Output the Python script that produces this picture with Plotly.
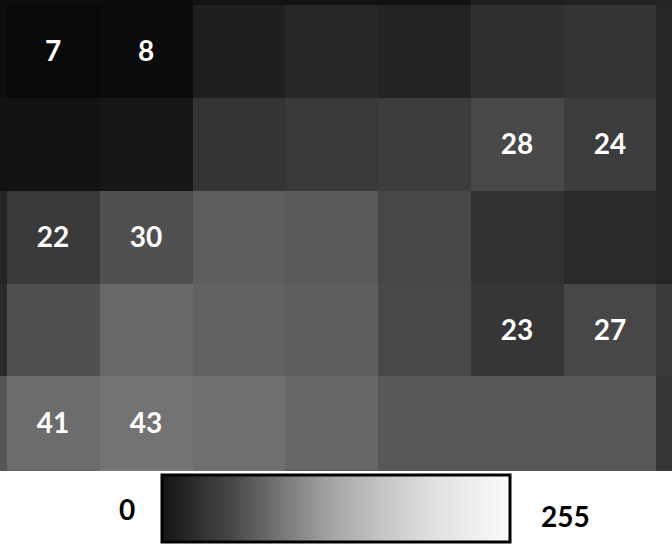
import plotly.graph_objects as go

# Gray level (0-255) of every pixel cell, top row to bottom row, left column to right column.
# Outer rows/columns are the partially visible cells at the image edges.
row_0 = [12, 12, 12, 19, 19, 18, 31, 34, 37]
row_1 = [14, 9, 11, 31, 39, 35, 48, 52, 38]
row_2 = [18, 18, 22, 52, 57, 61, 72, 60, 38]
row_3 = [37, 58, 80, 94, 90, 71, 49, 42, 38]
row_4 = [42, 80, 104, 98, 95, 72, 54, 71, 58]
row_5 = [85, 108, 115, 111, 103, 87, 87, 87, 54]
row_6 = [85, 106, 120, 112, 96, 85, 85, 85, 58]
gray_levels = [row_0, row_1, row_2, row_3, row_4, row_5, row_6]

# Numbers printed on cells ("" = no label)
label_0 = ["", "", "", "", "", "", "", "", ""]
label_1 = ["", "7", "8", "", "", "", "", "", ""]
label_2 = ["", "", "", "", "", "", "28", "24", ""]
label_3 = ["", "22", "30", "", "", "", "", "", ""]
label_4 = ["", "", "", "", "", "", "23", "27", ""]
label_5 = ["", "41", "43", "", "", "", "", "", ""]
label_6 = ["", "", "", "", "", "", "", "", ""]
cell_labels = [label_0, label_1, label_2, label_3, label_4, label_5, label_6]

scale_min_label = "0"
scale_max_label = "255"
scale_min, scale_max = 0, 255

W, H = 672, 554
cell_px = 92.8
plot_h = 471

gray_scale = [[0, "rgb(0,0,0)"], [1, "rgb(255,255,255)"]]
bar_scale = [
    [0.00, "#141414"], [0.10, "#2e2e2e"], [0.20, "#474747"], [0.30, "#686868"],
    [0.40, "#8a8a8a"], [0.50, "#a8a8a8"], [0.60, "#bebebe"], [0.70, "#d2d2d2"],
    [0.80, "#e3e3e3"], [0.90, "#efefef"], [1.00, "#fafafa"],
]

fig = go.Figure()
fig.add_trace(go.Heatmap(
    z=gray_levels,
    text=cell_labels,
    texttemplate="%{text}",
    textfont=dict(family="Lato", size=28, color="white", weight="bold"),
    colorscale=gray_scale,
    zmin=scale_min, zmax=scale_max,
    showscale=False,
    hoverinfo="skip",
))

# colour bar
fig.add_trace(go.Scatter(
    x=[None], y=[None], mode="markers",
    marker=dict(
        color=[scale_min], colorscale=bar_scale, cmin=scale_min, cmax=scale_max,
        showscale=True,
        colorbar=dict(
            orientation="h",
            thickness=67, len=348, lenmode="pixels",
            x=0.5, xanchor="center",
            y=1 - 510 / H, yanchor="middle", yref="paper",
            xpad=0, ypad=0,
            outlinewidth=3, outlinecolor="black",
            showticklabels=False, ticks="",
        ),
    ),
    hoverinfo="skip", showlegend=False,
))

x_lo = 0.5 - 7 / cell_px
x_hi = x_lo + W / cell_px
y_lo = 0.5 - 5 / cell_px
y_hi = y_lo + plot_h / cell_px

fig.update_xaxes(range=[x_lo, x_hi], visible=False, domain=[0, 1])
fig.update_yaxes(range=[y_hi, y_lo], visible=False, domain=[1 - plot_h / H, 1])

lab_font = dict(family="Lato", size=28, color="black", weight="bold")
fig.add_annotation(text=scale_min_label, xref="paper", yref="paper",
                   x=127 / W, y=1 - 509 / H, xanchor="center", yanchor="middle",
                   showarrow=False, font=lab_font)
fig.add_annotation(text=scale_max_label, xref="paper", yref="paper",
                   x=565 / W, y=1 - 516 / H, xanchor="center", yanchor="middle",
                   showarrow=False, font=lab_font)

fig.update_layout(
    width=W, height=H,
    margin=dict(l=0, r=0, t=0, b=0),
    paper_bgcolor="white", plot_bgcolor="white",
    showlegend=False,
)

fig.write_html("out.html")
